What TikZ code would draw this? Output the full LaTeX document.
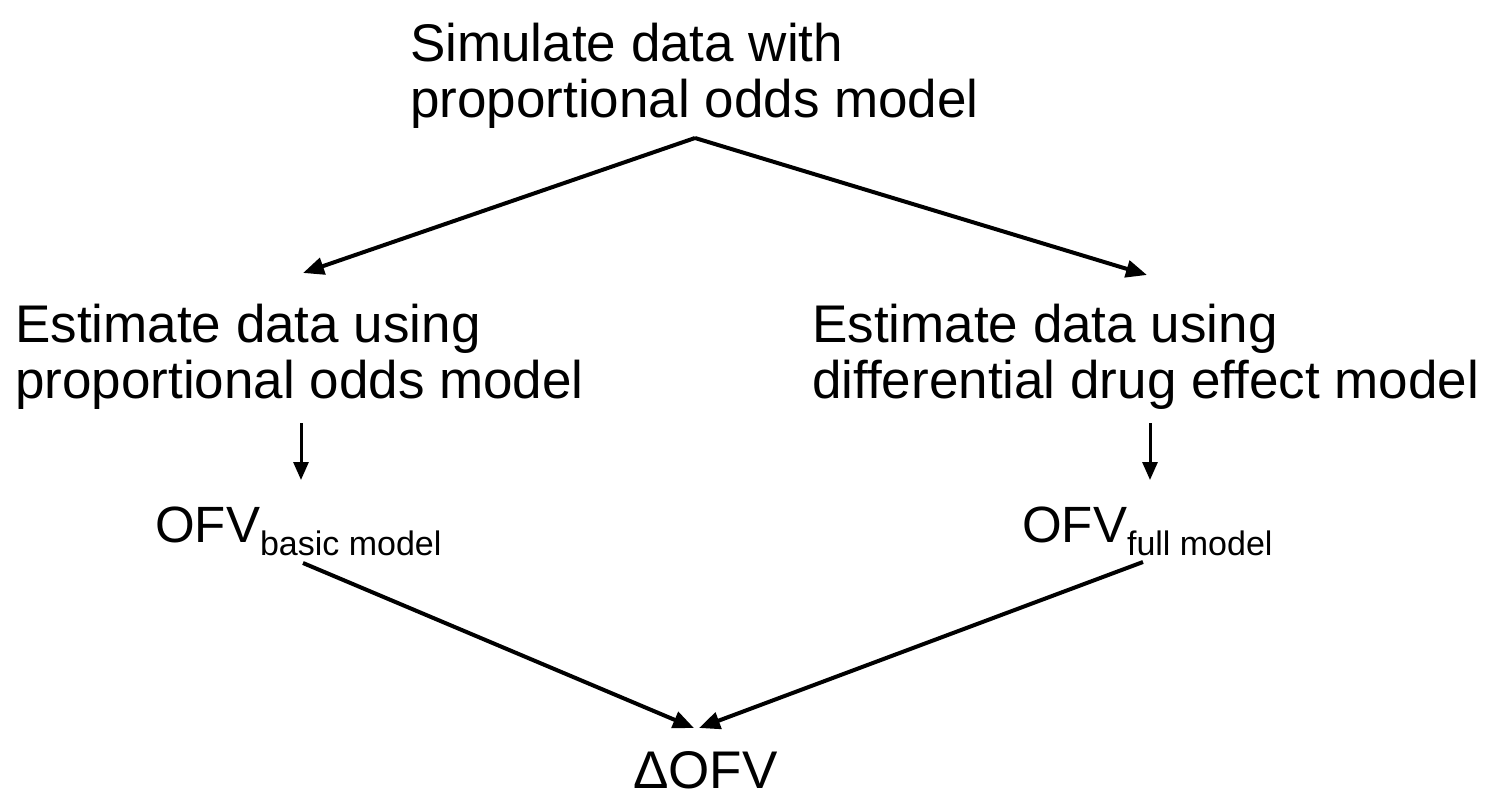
\documentclass[tikz,border=0pt]{standalone}
\usepackage{fontspec}
\setmainfont{Liberation Sans}
\usetikzlibrary{arrows.meta}
\newcommand{\subtxt}[1]{\raisebox{-13pt}{\fontsize{34}{34}\selectfont #1}}
\begin{document}
\begin{tikzpicture}[x=1pt,y=-1pt,
  txt/.style={inner sep=0pt,align=left,anchor=base west,font=\fontsize{53}{56}\selectfont},
  ofvtxt/.style={inner sep=0pt,anchor=base west,font=\fontsize{51}{56}\selectfont},
  bigarrow/.style={line width=4pt,-{Triangle[length=21pt,width=17pt]}},
  smallarrow/.style={line width=3pt,-{Triangle[length=18pt,width=15pt]}}]
\useasboundingbox (0,0) rectangle (1505,794);
% multi-line nodes: base anchor = baseline of last line
\node[txt] (sim) at (410,118) {Simulate data with\\proportional odds model};
\node[txt] (estL) at (15,399) {Estimate data using\\proportional odds model};
\node[txt] (estR) at (812,399) {Estimate data using\\differential drug effect model};
\node[ofvtxt] (ofvL) at (155,542) {OFV\subtxt{basic model}};
\node[ofvtxt] (ofvR) at (1022,542) {OFV\subtxt{full model}};
\node[txt] (dofv) at (633,788) {ΔOFV};
\coordinate (apex) at (695,138);
\coordinate (tipL) at (303,273);
\coordinate (tipR) at (1147,275);
\coordinate (downLs) at (301,423);
\coordinate (downLe) at (301,480);
\coordinate (downRs) at (1150,423);
\coordinate (downRe) at (1150,480);
\coordinate (fromL) at (303,563);
\coordinate (fromR) at (1143,562);
\coordinate (meetL) at (694,728);
\coordinate (meetR) at (699,728);
\draw[bigarrow] (apex) -- (tipL);
\draw[bigarrow] (apex) -- (tipR);
\draw[smallarrow] (downLs) -- (downLe);
\draw[smallarrow] (downRs) -- (downRe);
\draw[bigarrow] (fromL) -- (meetL);
\draw[bigarrow] (fromR) -- (meetR);
\end{tikzpicture}
\end{document}
